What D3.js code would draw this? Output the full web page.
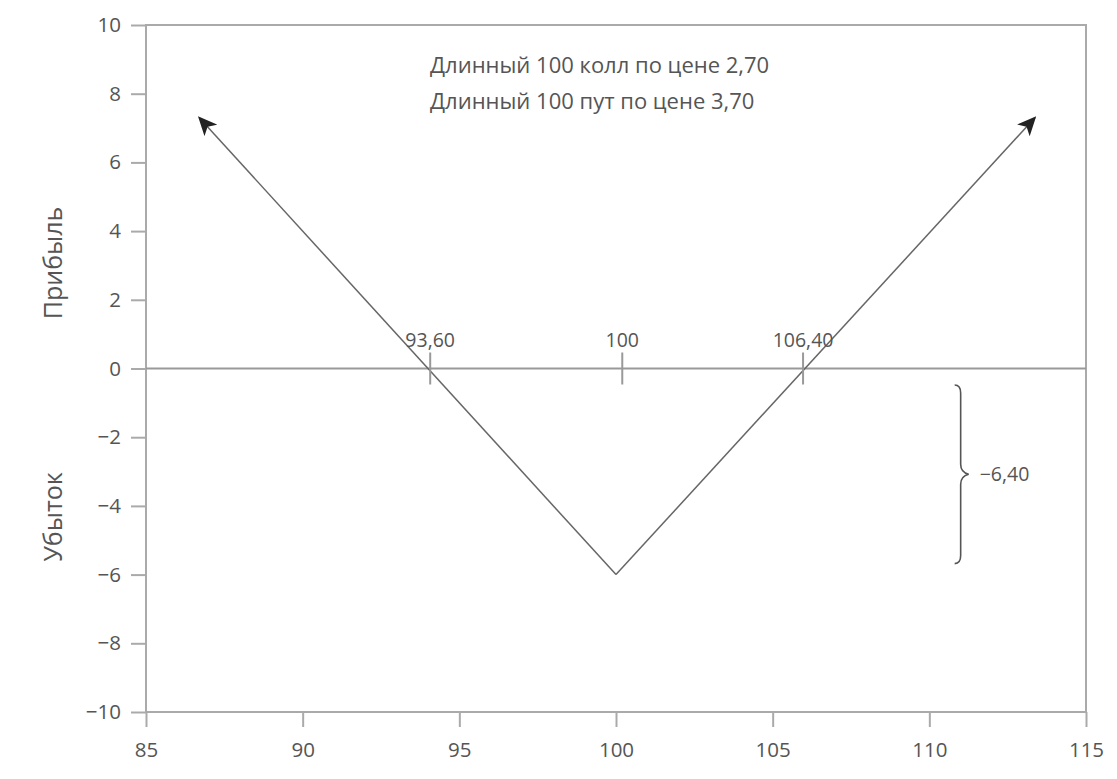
<!DOCTYPE html>
<html><head><meta charset="utf-8">
<script src="https://cdn.jsdelivr.net/npm/d3@7"></script>
<style>body{margin:0;background:#fff}text{font-family:"Open Sans","Noto Sans",sans-serif;fill:#555}</style>
</head><body><svg id="c" width="1117" height="779"></svg>
<script>
const xTicks = [85, 90, 95, 100, 105, 110, 115];
const yTicks = [-10, -8, -6, -4, -2, 0, 2, 4, 6, 8, 10];
const payoffX = [86.7, 100, 113.37];
const payoffY = [7.3, -6, 7.3];
const markerX = [94.07, 100.2, 105.97];
const markerLabels = ["93,60", "100", "106,40"];
const notes = ["Длинный 100 колл по цене 2,70", "Длинный 100 пут по цене 3,70"];
const braceRange = [-0.48, -5.68];
const braceX = 111.0;
const braceLabel = "\u22126,40";

const svg = d3.select("#c");
const m = {l:146, r:1086, t:25, b:712};
const x = d3.scaleLinear().domain([85,115]).range([m.l,m.r]);
const y = d3.scaleLinear().domain([-10,10]).range([m.b,m.t]);
const axisCol = "#aaa";
const fmt = d => d < 0 ? "\u2212" + Math.abs(d) : String(d);

svg.append("rect").attr("x",m.l).attr("y",m.t).attr("width",m.r-m.l).attr("height",m.b-m.t)
  .attr("fill","none").attr("stroke",axisCol).attr("stroke-width",2);

const gx = svg.append("g").attr("transform",`translate(0,${m.b})`)
  .call(d3.axisBottom(x).tickValues(xTicks).tickSize(15).tickPadding(15).tickFormat(fmt));
const gy = svg.append("g").attr("transform",`translate(${m.l},0)`)
  .call(d3.axisLeft(y).tickValues(yTicks).tickSize(15).tickPadding(10).tickFormat(fmt));
[gx,gy].forEach(g=>{
  g.select(".domain").remove();
  g.selectAll(".tick line").attr("stroke",axisCol).attr("stroke-width",2);
  g.selectAll(".tick text").attr("font-size",20.5).style("fill","#555").attr("font-family","Open Sans");
});

svg.append("line").attr("x1",m.l).attr("x2",m.r).attr("y1",y(0)).attr("y2",y(0))
  .attr("stroke","#999").attr("stroke-width",2);

svg.append("defs").append("marker").attr("id","ah").attr("viewBox","0 0 10 10")
  .attr("refX",9).attr("refY",5).attr("markerWidth",19).attr("markerHeight",19)
  .attr("markerUnits","userSpaceOnUse").attr("orient","auto")
  .append("path").attr("d","M0,0.5 L10,5 L0,9.5 L2.5,5 Z").attr("fill","#222");

const pts = payoffX.map((d,i)=>[d,payoffY[i]]);
const line = d3.line().x(d=>x(d[0])).y(d=>y(d[1]));
svg.append("path").attr("d",line([pts[1],pts[0]])).attr("fill","none")
  .attr("stroke","#666").attr("stroke-width",1.5).attr("marker-end","url(#ah)");
svg.append("path").attr("d",line([pts[1],pts[2]])).attr("fill","none")
  .attr("stroke","#666").attr("stroke-width",1.5).attr("marker-end","url(#ah)");

markerX.forEach((d,i)=>{
  svg.append("line").attr("x1",x(d)).attr("x2",x(d)).attr("y1",y(0)-16).attr("y2",y(0)+16)
    .attr("stroke","#999").attr("stroke-width",2);
  svg.append("text").attr("x",x(d)).attr("y",y(0)-22).attr("text-anchor","middle")
    .attr("font-size",19.5).text(markerLabels[i]);
});

notes.forEach((t,i)=>{
  svg.append("text").attr("x",430).attr("y",73+i*36).attr("font-size",22).text(t);
});

const bx = x(braceX), b1 = y(braceRange[0]), b2 = y(braceRange[1]), bm = (b1+b2)/2;
const bp = `M${bx-6},${b1} Q${bx},${b1} ${bx},${b1+8} L${bx},${bm-10} Q${bx},${bm-2} ${bx+8},${bm} Q${bx},${bm+2} ${bx},${bm+10} L${bx},${b2-8} Q${bx},${b2} ${bx-6},${b2}`;
svg.append("path").attr("d",bp).attr("fill","none").attr("stroke","#555").attr("stroke-width",1.6);
svg.append("text").attr("x",bx+19).attr("y",bm+7).attr("font-size",19.5).text(braceLabel);

svg.append("text").attr("transform",`translate(62,263) rotate(-90)`).attr("text-anchor","middle")
  .attr("font-size",25).text("Прибыль");
svg.append("text").attr("transform",`translate(62,517) rotate(-90)`).attr("text-anchor","middle")
  .attr("font-size",25).text("Убыток");
</script></body></html>
